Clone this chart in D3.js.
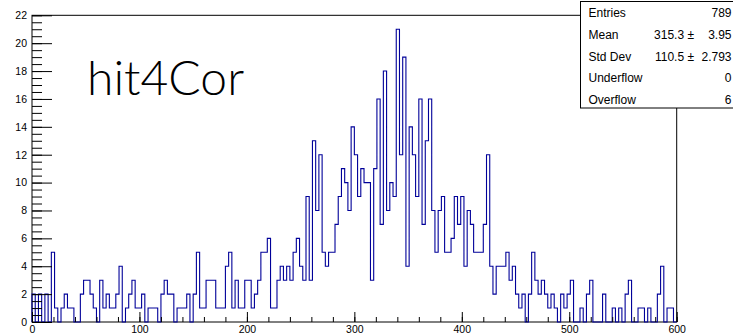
<!DOCTYPE html>
<html>
<head>
<meta charset="utf-8">
<script src="https://cdn.jsdelivr.net/npm/d3@7"></script>
<style>
  html, body { margin: 0; padding: 0; background: #ffffff; }
  svg { display: block; }
</style>
</head>
<body>
<script>
// Histogram "hit4Cor": 200 bins of width 3 over [0, 600)
const title = "hit4Cor";
const binLow = 0;
const binHigh = 600;
const binWidth = 3;
const counts = [
  2, 0, 2, 0, 2, 0, 5, 1, 0, 1,
  2, 1, 1, 0, 0, 2, 3, 3, 2, 1,
  0, 3, 1, 2, 1, 1, 2, 4, 0, 1,
  2, 3, 1, 1, 2, 0, 1, 1, 1, 0,
  2, 3, 2, 2, 0, 1, 1, 1, 2, 0,
  2, 5, 1, 1, 3, 3, 3, 1, 1, 1,
  4, 5, 1, 3, 1, 1, 3, 3, 1, 2,
  3, 5, 5, 6, 1, 1, 3, 4, 3, 4,
  3, 5, 6, 4, 3, 9, 3, 13, 8, 12,
  5, 4, 5, 5, 7, 9, 11, 10, 8, 14,
  12, 9, 11, 10, 10, 3, 11, 16, 7, 18,
  8, 10, 9, 21, 12, 19, 4, 14, 12, 9,
  16, 7, 13, 16, 8, 5, 8, 9, 5, 5,
  6, 9, 7, 9, 4, 8, 7, 5, 5, 5,
  7, 12, 4, 2, 4, 4, 4, 5, 3, 4,
  2, 1, 2, 0, 2, 5, 3, 2, 3, 2,
  1, 2, 1, 0, 2, 1, 2, 3, 0, 0,
  1, 0, 2, 3, 0, 0, 0, 2, 0, 0,
  1, 0, 1, 0, 2, 3, 0, 0, 1, 1,
  0, 1, 0, 0, 2, 4, 0, 1, 1, 0
];
const yMax = 22;
const yTicks = [0, 2, 4, 6, 8, 10, 12, 14, 16, 18, 20, 22];
const xTicks = [0, 100, 200, 300, 400, 500, 600];

// Statistics box rows
const statsLabels = ["Entries", "Mean", "Std Dev", "Underflow", "Overflow"];
const statsValues = ["789", "315.3 \u00b1", "110.5 \u00b1", "0", "6"];
const statsErrors = ["", "3.95", "2.793", "", ""];

const W = 733, H = 335;
const frame = { left: 32, right: 676.7, top: 15.3, bottom: 322 };
const font = "'Liberation Sans', Arial, Helvetica, sans-serif";
const lineColor = "#000099";

const svg = d3.select("body").append("svg")
  .attr("width", W).attr("height", H)
  .attr("viewBox", `0 0 ${W} ${H}`);

svg.append("rect").attr("width", W).attr("height", H).attr("fill", "#ffffff");

const x = d3.scaleLinear().domain([binLow, binHigh]).range([frame.left, frame.right]);
const y = d3.scaleLinear().domain([0, yMax]).range([frame.bottom, frame.top]);

// Frame
svg.append("rect")
  .attr("x", frame.left).attr("y", frame.top)
  .attr("width", frame.right - frame.left)
  .attr("height", frame.bottom - frame.top)
  .attr("fill", "none").attr("stroke", "#000").attr("stroke-width", 1);

// Step outline of the histogram
const pts = [[binLow, 0]];
counts.forEach((c, i) => {
  pts.push([binLow + i * binWidth, c]);
  pts.push([binLow + (i + 1) * binWidth, c]);
});
pts.push([binHigh, 0]);

const line = d3.line().x(d => x(d[0])).y(d => y(d[1]));
svg.append("path")
  .attr("d", line(pts))
  .attr("fill", "none")
  .attr("stroke", lineColor)
  .attr("stroke-width", 1.1);

// Y axis: major ticks every 2, minor every 0.5, drawn inward
const yMinor = svg.append("g").attr("transform", `translate(${frame.left},0)`)
  .call(d3.axisLeft(y).tickValues(d3.range(0, yMax + 0.01, 0.5)).tickSize(-10).tickFormat(""));
const yMajor = svg.append("g").attr("transform", `translate(${frame.left},0)`)
  .call(d3.axisLeft(y).tickValues(yTicks).tickSize(-20).tickPadding(5));

// X axis: major ticks every 100, minor every 20
const xMinor = svg.append("g").attr("transform", `translate(0,${frame.bottom})`)
  .call(d3.axisBottom(x).tickValues(d3.range(binLow, binHigh + 0.01, 20)).tickSize(-5).tickFormat(""));
const xMajor = svg.append("g").attr("transform", `translate(0,${frame.bottom})`)
  .call(d3.axisBottom(x).tickValues(xTicks).tickSize(-10).tickPadding(4));

[yMinor, yMajor, xMinor, xMajor].forEach(g => {
  g.select(".domain").remove();
  g.selectAll(".tick line").attr("stroke", "#000").attr("stroke-width", 1);
  g.selectAll("text")
    .attr("fill", "#000")
    .style("font-family", font)
    .style("font-size", "10.5px");
});

// Title
svg.append("text")
  .attr("x", 87).attr("y", 95)
  .text(title)
  .style("font-family", "Lato, 'Open Sans', sans-serif")
  .style("font-weight", 300)
  .style("font-size", "48px")
  .attr("fill", "#000");

// Statistics box
const box = svg.append("g");
box.append("rect")
  .attr("x", 580.5).attr("y", 1.5)
  .attr("width", 170).attr("height", 106.5)
  .attr("fill", "#fff").attr("stroke", "#000").attr("stroke-width", 1);

statsLabels.forEach((lab, i) => {
  const by = 17.3 + i * 21.6;
  box.append("text").attr("x", 588.5).attr("y", by).text(lab)
    .style("font-family", font).style("font-size", "12px").attr("fill", "#000");
  if (statsErrors[i]) {
    box.append("text").attr("x", 694).attr("y", by).attr("text-anchor", "end").text(statsValues[i])
      .style("font-family", font).style("font-size", "12px").attr("fill", "#000");
    box.append("text").attr("x", 731.5).attr("y", by).attr("text-anchor", "end").text(statsErrors[i])
      .style("font-family", font).style("font-size", "12px").attr("fill", "#000");
  } else {
    box.append("text").attr("x", 731.5).attr("y", by).attr("text-anchor", "end").text(statsValues[i])
      .style("font-family", font).style("font-size", "12px").attr("fill", "#000");
  }
});
</script>
</body>
</html>
